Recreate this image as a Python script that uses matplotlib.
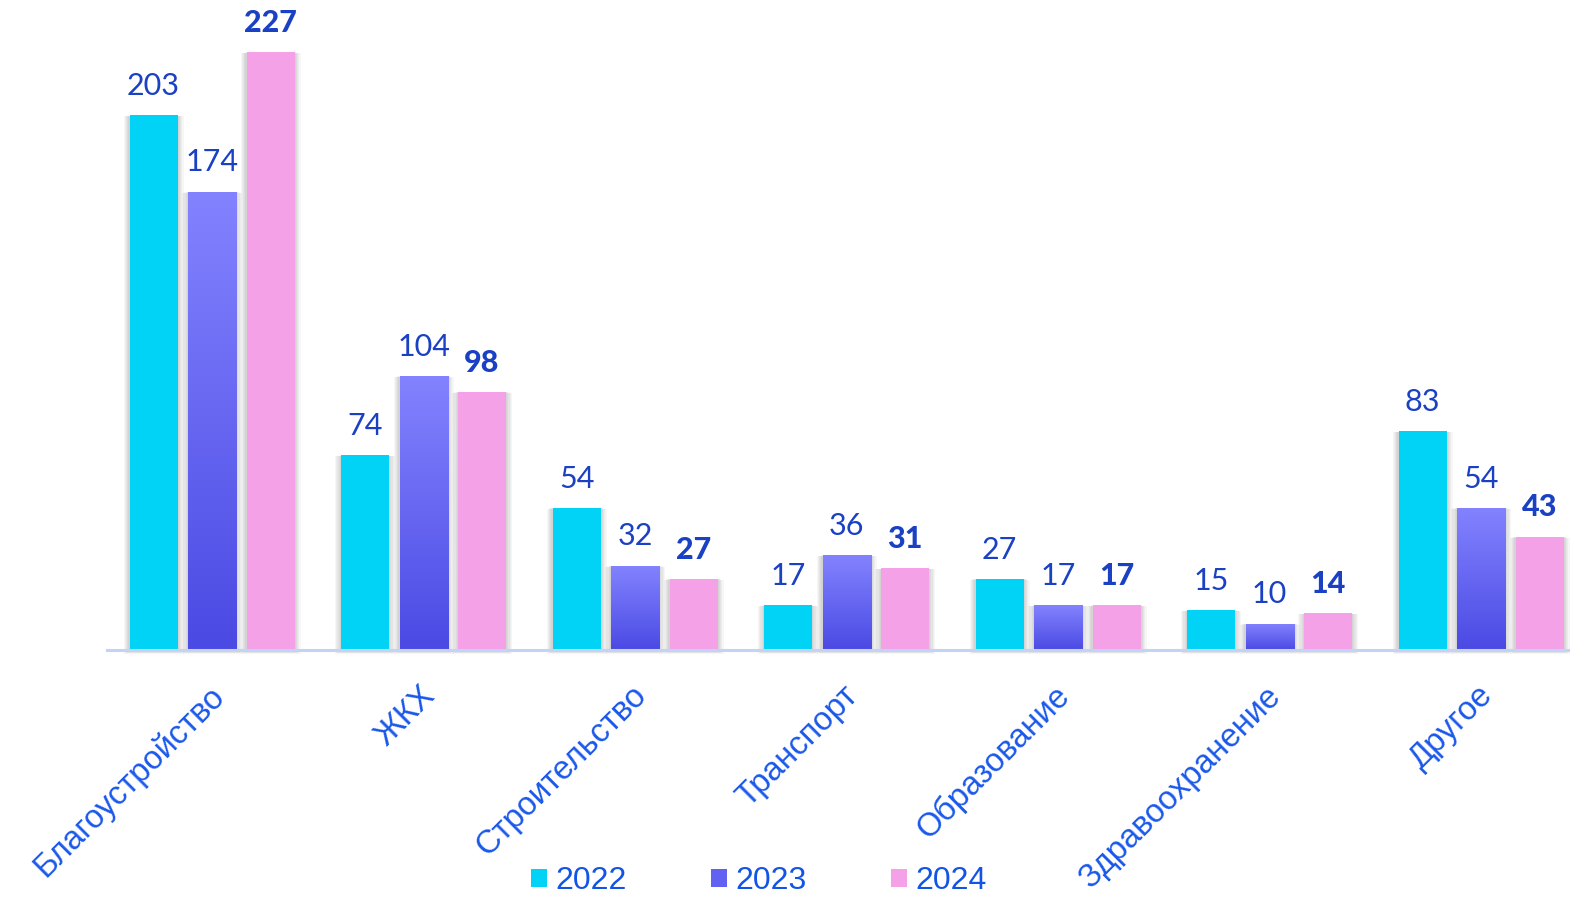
import numpy as np
import matplotlib
matplotlib.use('Agg')
import matplotlib.pyplot as plt
from matplotlib.patches import Patch
from matplotlib.colors import LinearSegmentedColormap

# Data
categories = ['Благоустройство', 'ЖКХ', 'Строительство', 'Транспорт',
              'Образование', 'Здравоохранение', 'Другое']
years = ['2022', '2023', '2024']
v2022 = [203, 74, 54, 17, 27, 15, 83]
v2023 = [174, 104, 32, 36, 17, 10, 54]
v2024 = [227, 98, 27, 31, 17, 14, 43]

c2022 = '#00d3f5'
c2023_top = '#8383ff'
c2023_bot = '#4a4ae4'
c2024 = '#f4a1e8'
label_col = '#1a40c4'
cat_col = '#1a58ea'

W, H = 1575, 898
fig = plt.figure(figsize=(W / 100, H / 100), dpi=100, facecolor='white')
ax = fig.add_axes([107 / W, (H - 650) / H, (1568 - 107) / W, 650 / H])
xlim = (-0.4965, 6.411)
ylim = (0, 246.8)

px_x = 1 / 211.5
px_y = 1 / 2.634
x = np.arange(len(categories))
step = 58.5 * px_x
width = 48 * px_x

series = [v2022, v2023, v2024]
colors = [c2022, c2023_bot, c2024]

# soft shadows
for i, vals in enumerate(series):
    xs = x + (i - 1) * step
    for k in range(1, 6):
        ax.bar(xs, np.array(vals) + k * 0.3 * px_y + 1.5 * px_y, width + 2 * k * 1.2 * px_x,
               bottom=-1.5 * px_y - k * 0.5 * px_y,
               color='black', alpha=0.035, linewidth=0, zorder=1, clip_on=False)

containers = []
for i, vals in enumerate(series):
    xs = x + (i - 1) * step
    bc = ax.bar(xs, vals, width, color=colors[i], linewidth=0, zorder=2)
    containers.append(bc)

# gradient on 2023 bars
cmap = LinearSegmentedColormap.from_list('g23', [c2023_bot, c2023_top])
grad = np.linspace(0, 1, 256).reshape(-1, 1)
for rect in containers[1]:
    x0, y0 = rect.get_x(), rect.get_y()
    w, h = rect.get_width(), rect.get_height()
    im = ax.imshow(grad, cmap=cmap, origin='lower', aspect='auto',
                   extent=[x0, x0 + w, y0, y0 + h], zorder=3)
    im.set_clip_path(rect)
ax.set_xlim(*xlim)
ax.set_ylim(*ylim)

# value labels
for i, bc in enumerate(containers):
    ax.bar_label(bc, padding=11, fontsize=22, color=label_col,
                 family='Lato', fontweight='black' if i == 2 else 'normal',
                 zorder=5)

# axis styling
for s in ['top', 'right', 'left']:
    ax.spines[s].set_visible(False)
ax.spines['bottom'].set_color('#c2d3f7')
ax.spines['bottom'].set_linewidth(2.2)
ax.spines['bottom'].set_zorder(4)
ax.set_yticks([])
ax.set_xticks(x)
ax.set_xticklabels([])
ax.tick_params(axis='x', length=0)

for xi, cat in zip(x, categories):
    ax.annotate(cat, xy=(xi, 0), xytext=(-4, -30), textcoords='offset pixels',
                rotation=45, rotation_mode='anchor', ha='right', va='top',
                fontsize=23.5, color=cat_col, family='Liberation Sans',
                annotation_clip=False)

handles = [Patch(facecolor=c2022), Patch(facecolor='#6262f2'), Patch(facecolor=c2024)]
leg = fig.legend(handles, years, loc='lower center', bbox_to_anchor=(759 / W, -0.03),
                 ncol=3, frameon=False, handlelength=0.5, handleheight=0.5,
                 handletextpad=0.25, columnspacing=2.65,
                 prop={'family': 'Liberation Sans', 'size': 23})
for t in leg.get_texts():
    t.set_color('#1254e6')

fig.savefig('out.png', dpi=100, facecolor='white')
